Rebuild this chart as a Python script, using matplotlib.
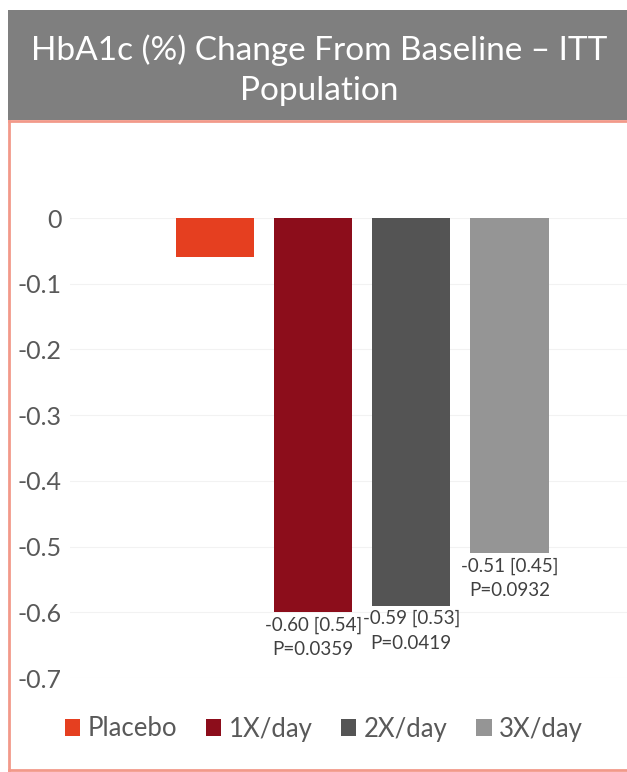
import matplotlib

matplotlib.use("Agg")
import matplotlib.pyplot as plt
from matplotlib.patches import Rectangle, Patch
from matplotlib.lines import Line2D

groups = ["Placebo", "1X/day", "2X/day", "3X/day"]
changes = [-0.06, -0.60, -0.59, -0.51]
bar_labels = ["", "-0.60 [0.54]\nP=0.0359", "-0.59 [0.53]\nP=0.0419", "-0.51 [0.45]\nP=0.0932"]
colors = ["#E53F20", "#8C0D1B", "#545454", "#959595"]
yticks = [0, -0.1, -0.2, -0.3, -0.4, -0.5, -0.6, -0.7]
ytick_labels = ["0", "-0.1", "-0.2", "-0.3", "-0.4", "-0.5", "-0.6", "-0.7"]

plt.rcParams["font.family"] = ["Lato", "DejaVu Sans"]

W, H = 627, 772
fig = plt.figure(figsize=(W / 100, H / 100), dpi=100)


def px(x0, y0, x1, y1):
    # pixel box (top-left origin) -> figure fraction rect
    return [x0 / W, 1 - y1 / H, (x1 - x0) / W, (y1 - y0) / H]


# title banner
fig.patches.append(Rectangle((8 / W, 1 - 120 / H), (W - 8) / W, 110 / H,
                             transform=fig.transFigure, facecolor="#7F7F7F",
                             edgecolor="none", zorder=0))
fig.text(319 / W, 1 - 70 / H, "HbA1c (%) Change From Baseline \u2013 ITT\nPopulation",
         ha="center", va="center", color="white", fontsize=24, linespacing=1.42)

# salmon frame around chart area
frame = dict(transform=fig.transFigure, color="#F2998A", linewidth=2)
fig.lines.append(Line2D([9 / W, 9 / W], [1 - 121 / H, 1 - 770 / H], **frame))
fig.lines.append(Line2D([9 / W, 1], [1 - 121 / H, 1 - 121 / H], **frame))
fig.lines.append(Line2D([9 / W, 1], [1 - 770 / H, 1 - 770 / H], **frame))

ax = fig.add_axes(px(70, 218, 627, 678))
x = list(range(len(groups)))
ax.bar(x, changes, width=0.8, color=colors, zorder=2)

for xi, v, lab in zip(x, changes, bar_labels):
    if lab:
        ax.annotate(lab, (xi, v), xytext=(0, -3), textcoords="offset points",
                    ha="center", va="top", fontsize=13.5, color="#404040",
                    linespacing=1.55)

ax.set_xlim(-1.48, 4.2)
ax.set_ylim(-0.7, 0)
ax.set_yticks(yticks)
ax.set_yticklabels(ytick_labels)
ax.set_xticks([])
ax.tick_params(axis="y", length=0, pad=6, labelsize=18, labelcolor="#595959")
ax.grid(axis="y", color="#F2F2F2", linewidth=0.8, zorder=0)
for s in ax.spines.values():
    s.set_visible(False)

handles = [Patch(facecolor=c, edgecolor="none") for c in colors]
fig.legend(handles, groups, loc="center", bbox_to_anchor=(324 / W, 1 - 729 / H),
           ncol=4, frameon=False, fontsize=18.5, labelcolor="#595959",
           handlelength=0.6, handleheight=0.6, handletextpad=0.3,
           columnspacing=1.1)

fig.savefig("out.png", dpi=100)
